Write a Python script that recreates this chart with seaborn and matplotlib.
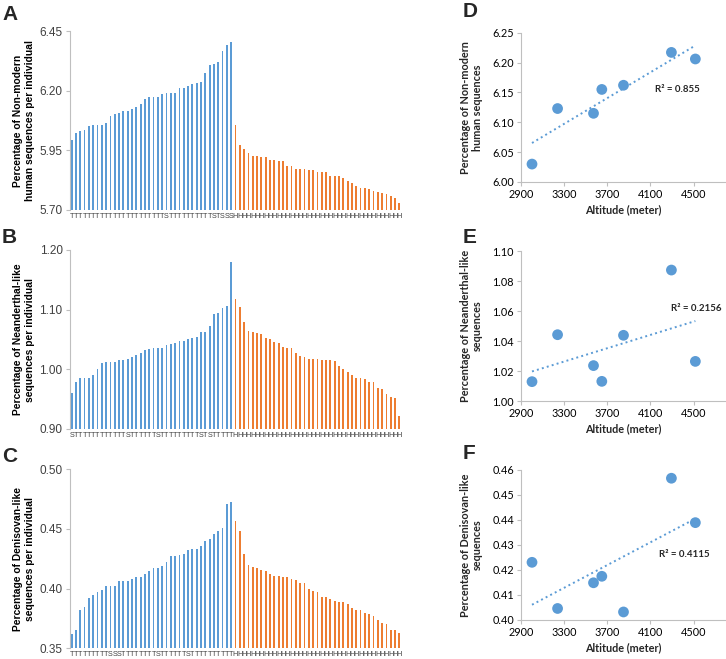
"""
Archaic-like sequence share per individual (A-C) and vs. altitude (D-F)
"""

import numpy as np
import pandas as pd
import matplotlib
matplotlib.use('Agg')
import matplotlib.pyplot as plt
import seaborn as sns

# ---- bar panels: Tibetan/Sherpa (blue) then Han (orange) ----
a_ts = [5.994, 6.025, 6.030, 6.036, 6.053, 6.057, 6.057, 6.057, 6.067, 6.095,
        6.103, 6.109, 6.116, 6.116, 6.124, 6.131, 6.144, 6.167, 6.173, 6.173,
        6.176, 6.186, 6.190, 6.193, 6.193, 6.211, 6.211, 6.221, 6.229, 6.233,
        6.239, 6.277, 6.309, 6.312, 6.323, 6.367, 6.393, 6.407]
a_han = [6.057, 5.971, 5.956, 5.941, 5.928, 5.927, 5.924, 5.921, 5.910, 5.908,
         5.907, 5.904, 5.886, 5.883, 5.874, 5.874, 5.872, 5.869, 5.868, 5.861,
         5.860, 5.860, 5.844, 5.844, 5.844, 5.833, 5.822, 5.815, 5.802, 5.794,
         5.792, 5.790, 5.781, 5.777, 5.773, 5.766, 5.759, 5.752, 5.731]
a_ts_labels = "TTTTTTTTTTTTTTTTTTTTTTSTTTTTTTTTTSTSSS"

b_ts = [0.961, 0.979, 0.985, 0.985, 0.985, 0.991, 1.001, 1.010, 1.012, 1.012,
        1.013, 1.015, 1.016, 1.018, 1.020, 1.024, 1.028, 1.032, 1.034, 1.035,
        1.035, 1.036, 1.040, 1.042, 1.044, 1.047, 1.047, 1.050, 1.053, 1.054,
        1.062, 1.063, 1.072, 1.093, 1.094, 1.102, 1.106, 1.180]
b_han = [1.118, 1.104, 1.080, 1.065, 1.063, 1.061, 1.059, 1.053, 1.051, 1.046,
         1.044, 1.037, 1.036, 1.035, 1.027, 1.023, 1.020, 1.017, 1.017, 1.017,
         1.015, 1.015, 1.015, 1.014, 1.006, 1.001, 0.996, 0.991, 0.985, 0.985,
         0.983, 0.979, 0.979, 0.968, 0.967, 0.958, 0.953, 0.952, 0.922]
b_ts_labels = "STTTTTTTTTTTTSTTTTTTSTTTTTTTTTSTSTTTTT"

c_ts = [0.362, 0.365, 0.382, 0.385, 0.392, 0.395, 0.397, 0.399, 0.402, 0.402,
        0.402, 0.406, 0.406, 0.406, 0.408, 0.410, 0.410, 0.412, 0.415, 0.417,
        0.417, 0.419, 0.422, 0.427, 0.427, 0.428, 0.429, 0.432, 0.433, 0.433,
        0.436, 0.440, 0.442, 0.446, 0.448, 0.451, 0.471, 0.473]
c_han = [0.457, 0.448, 0.429, 0.420, 0.418, 0.417, 0.416, 0.415, 0.412, 0.411,
         0.411, 0.410, 0.410, 0.408, 0.407, 0.405, 0.405, 0.400, 0.398, 0.397,
         0.393, 0.393, 0.391, 0.390, 0.389, 0.389, 0.387, 0.384, 0.382, 0.382,
         0.380, 0.379, 0.377, 0.374, 0.371, 0.370, 0.365, 0.365, 0.363]
c_ts_labels = "TTTTTTTTTSSSTTTTTTTTSTTTTTTSTTTTTTTTTT"
han_label = "H"

# ---- scatter panels: population mean vs altitude ----
altitude = [3002, 3239, 3572, 3649, 3850, 4294, 4516]
d_vals = [6.030, 6.123, 6.115, 6.155, 6.162, 6.217, 6.206]
e_vals = [1.0129, 1.0442, 1.0236, 1.0131, 1.0438, 1.0873, 1.0264]
f_vals = [0.4230, 0.4045, 0.4148, 0.4174, 0.4031, 0.4567, 0.4389]
alt_ticks = [2900, 3300, 3700, 4100, 4500]

BLUE = '#5B9BD5'
ORANGE = '#ED7D31'
GRID = '#BFBFBF'
TXT = '#404040'
W, H = 726, 659

sns.set_style('white')
plt.rcParams['font.family'] = ['Liberation Sans', 'DejaVu Sans']

fig = plt.figure(figsize=(W / 100, H / 100), dpi=100)


def px_axes(left, top, right, bottom):
    return fig.add_axes([left / W, 1 - bottom / H, (right - left) / W, (bottom - top) / H])


def bar_panel(ax, ts_vals, han_vals, ts_labels, ylim, yticks, ylabel):
    n_ts, n_han = len(ts_vals), len(han_vals)
    df = pd.DataFrame({
        'idx': np.arange(n_ts + n_han),
        'val': list(ts_vals) + list(han_vals),
        'grp': ['TS'] * n_ts + ['H'] * n_han,
    })
    sns.barplot(data=df, x='idx', y='val', hue='grp', dodge=False, width=0.42,
                palette={'TS': BLUE, 'H': ORANGE}, saturation=1, linewidth=0,
                errorbar=None, legend=False, ax=ax)
    ax.set_xlim(-0.5, n_ts + n_han - 0.5)
    ax.set_ylim(*ylim)
    ax.set_yticks(yticks)
    ax.set_yticklabels([f'{t:.2f}' for t in yticks], fontsize=8.5, color=TXT)
    ax.set_xticks(np.arange(n_ts + n_han))
    ax.set_xticklabels(list(ts_labels) + [han_label] * n_han, fontsize=5.2, color=TXT)
    ax.tick_params(axis='x', length=0, pad=2)
    ax.tick_params(axis='y', direction='out', length=3, color=GRID, pad=2, left=True)
    for s in ['top', 'right', 'bottom']:
        ax.spines[s].set_visible(False)
    ax.spines['left'].set_color(GRID)
    ax.set_xlabel('')
    ax.set_ylabel(ylabel, fontsize=7.4, fontweight='bold', color='black', linespacing=1.15)
    ax.yaxis.set_label_coords(-0.105, 0.5)


def scatter_panel(ax, vals, ylim, yticks, ylabel, r2_text, r2_xy):
    df = pd.DataFrame({'alt': altitude, 'val': vals})
    sns.regplot(data=df, x='alt', y='val', ci=None, color=BLUE, ax=ax,
                scatter_kws=dict(s=60, alpha=1, edgecolor='none', zorder=3),
                line_kws=dict(ls=':', lw=1.4, zorder=2))
    ax.set_xlim(2900, 4800)
    ax.set_ylim(*ylim)
    ax.set_xticks(alt_ticks)
    ax.set_xticklabels([str(t) for t in alt_ticks], fontsize=7.8, color='black', family='Lato')
    ax.set_yticks(yticks)
    ax.set_yticklabels([f'{t:.2f}' for t in yticks], fontsize=7.8, color='black', family='Lato')
    ax.tick_params(direction='out', length=3, color=GRID, pad=2, left=True, bottom=True)
    for s in ['top', 'right']:
        ax.spines[s].set_visible(False)
    for s in ['left', 'bottom']:
        ax.spines[s].set_color(GRID)
    ax.set_xlabel('Altitude (meter)', fontsize=7.8, fontweight='bold', family='Lato', labelpad=3)
    ax.set_ylabel(ylabel, fontsize=7.8, fontweight='bold', family='Lato', linespacing=1.1)
    ax.yaxis.set_label_coords(-0.185, 0.5)
    ax.text(*r2_xy, r2_text, fontsize=7, fontweight='bold', family='Lato', va='center')


# A-C
ax_a = px_axes(69.5, 31.3, 401.5, 210)
bar_panel(ax_a, a_ts, a_han, a_ts_labels, (5.70, 6.45), [5.70, 5.95, 6.20, 6.45],
          'Percentage of Non-modern\nhuman sequences per individual')
ax_b = px_axes(69.5, 250, 401.5, 429)
bar_panel(ax_b, b_ts, b_han, b_ts_labels, (0.90, 1.20), [0.90, 1.00, 1.10, 1.20],
          'Percentage of Neanderthal-like\nsequences per individual')
ax_c = px_axes(69.5, 469.3, 401.5, 648.3)
bar_panel(ax_c, c_ts, c_han, c_ts_labels, (0.35, 0.50), [0.35, 0.40, 0.45, 0.50],
          'Percentage of Denisovan-like\nsequences per individual')

# D-F
ax_d = px_axes(521, 32.7, 726, 182)
scatter_panel(ax_d, d_vals, (6.00, 6.25), [6.00, 6.05, 6.10, 6.15, 6.20, 6.25],
              'Percentage of Non-modern\nhuman sequences', 'R² = 0.855', (4140, 6.155))
ax_e = px_axes(521, 251, 726, 401)
scatter_panel(ax_e, e_vals, (1.00, 1.10), [1.00, 1.02, 1.04, 1.06, 1.08, 1.10],
              'Percentage of Neanderthal-like\nsequences', 'R² = 0.2156', (4288, 1.0618))
ax_f = px_axes(521, 470, 726, 619.7)
scatter_panel(ax_f, f_vals, (0.40, 0.46), [0.40, 0.41, 0.42, 0.43, 0.44, 0.45, 0.46],
              'Percentage of Denisovan-like\nsequences', 'R² = 0.4115', (4177, 0.4262))

for letter, x, y in [('A', 2, 5), ('B', 2, 228), ('C', 2, 447),
                     ('D', 463, 2), ('E', 463, 228), ('F', 463, 444)]:
    fig.text(x / W, 1 - y / H, letter, fontsize=15, fontweight='bold', va='top', ha='left')

fig.savefig('out.png', dpi=100)
plt.close(fig)
